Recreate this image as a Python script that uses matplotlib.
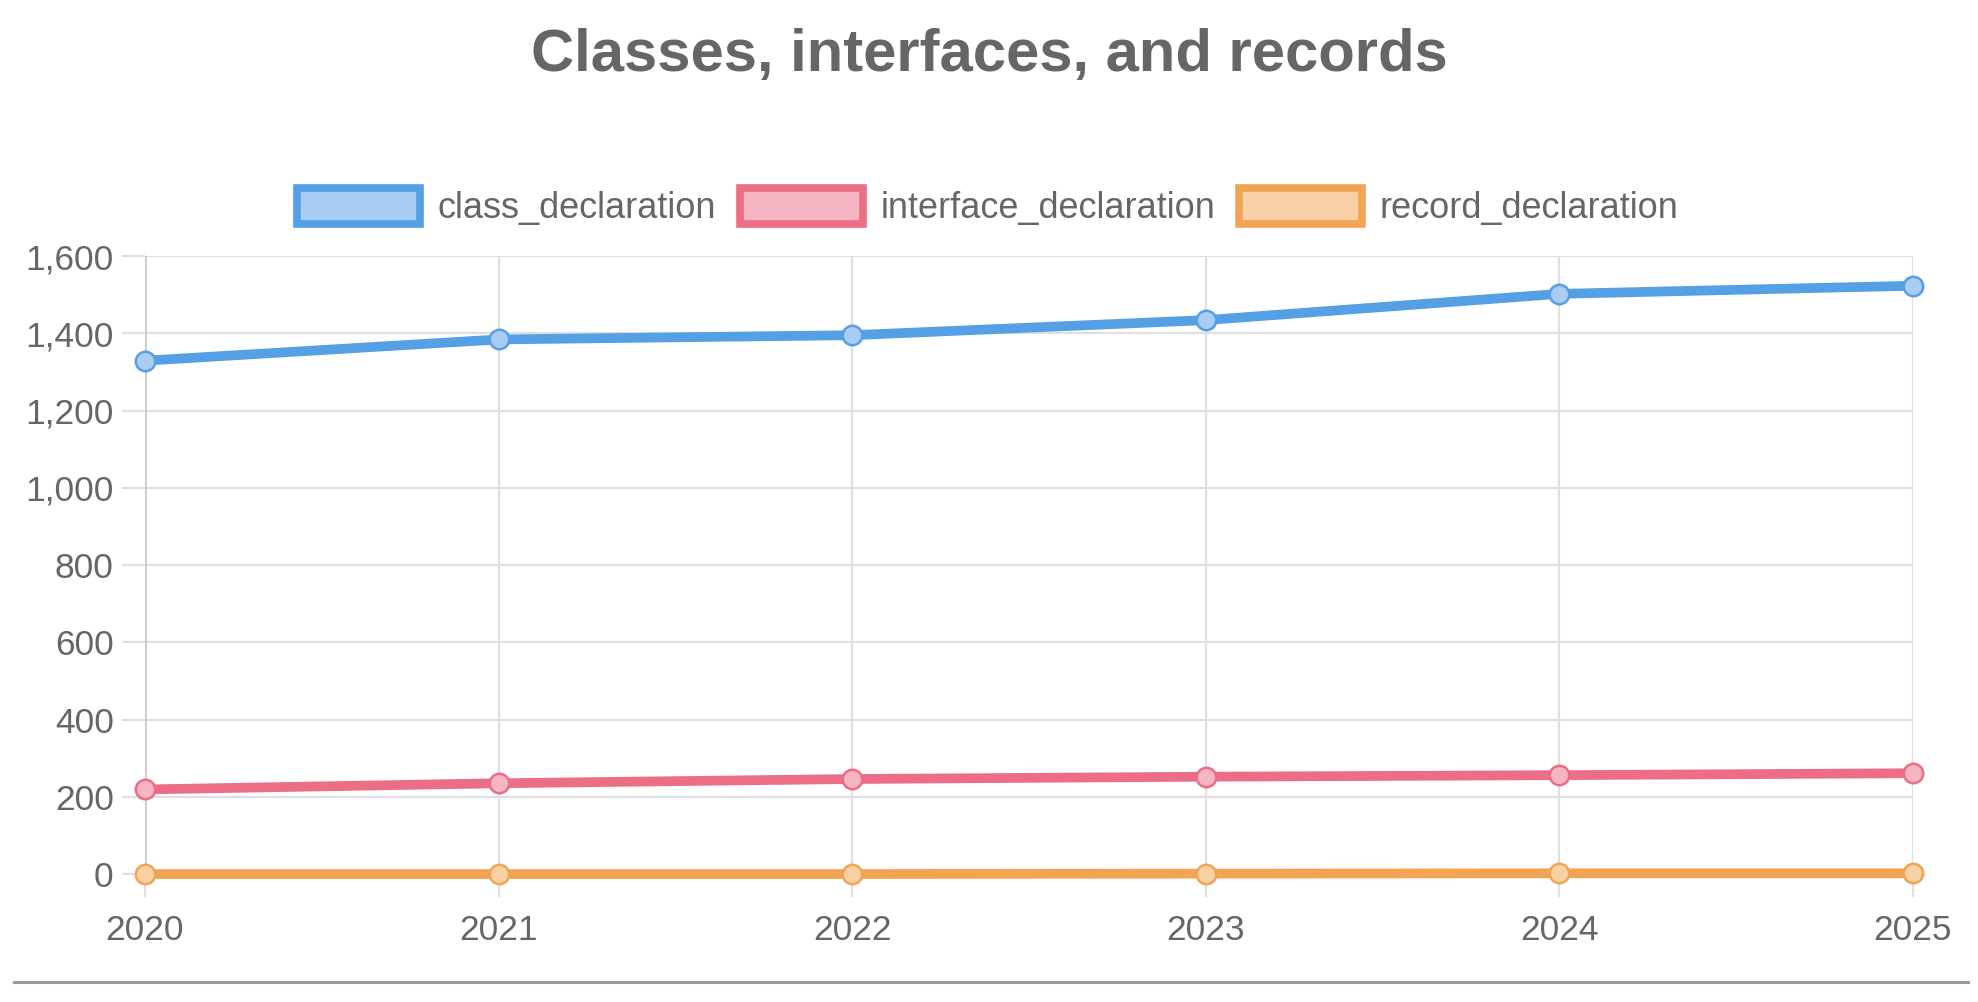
import matplotlib
matplotlib.use("Agg")
import matplotlib.pyplot as plt
from matplotlib.patches import Patch
from matplotlib.lines import Line2D
from matplotlib.ticker import FuncFormatter

# dados
anos = [2020, 2021, 2022, 2023, 2024, 2025]
class_declaration = [1329, 1384, 1395, 1434, 1502, 1523]
interface_declaration = [219, 235, 246, 252, 256, 261]
record_declaration = [0, 0, 0, 1, 2, 2]

series = [
    ("class_declaration", class_declaration, "#559fe4", "#a9cdf2"),
    ("interface_declaration", interface_declaration, "#ec6d86", "#f6b5c2"),
    ("record_declaration", record_declaration, "#f2a455", "#f8d0a6"),
]

plt.rcParams["font.family"] = ["Liberation Sans", "DejaVu Sans"]
cinza = "#666666"
grade = "#e0e0e0"

fig = plt.figure(figsize=(19.78, 10.02), dpi=100)
ax = fig.add_axes([0.0733, 0.1277, 0.9671 - 0.0733, 0.7445 - 0.1277])

for nome, valores, cor, clara in series:
    ax.plot(anos, valores, color=cor, linewidth=7, marker="o", markersize=14,
            markerfacecolor=clara, markeredgecolor=cor, markeredgewidth=1.8,
            clip_on=False, zorder=3, solid_capstyle="round")

ax.set_xlim(2020, 2025)
ax.set_ylim(0, 1600)
ax.set_xticks(anos)
ax.set_yticks(range(0, 1601, 200))
ax.yaxis.set_major_formatter(FuncFormatter(lambda v, p: f"{int(v):,}"))

for s in ax.spines.values():
    s.set_visible(False)
ax.grid(True, color=grade, linewidth=1.6, zorder=0)
ax.set_axisbelow(True)
ax.axvline(2020, color="#c8c8c8", linewidth=1.8, zorder=1)

ax.tick_params(axis="both", colors=grade, width=1.6, length=16.5, labelsize=25.5,
               labelcolor=cinza)
ax.tick_params(axis="y", pad=6)
ax.tick_params(axis="x", pad=12)

fig.text(0.5, 0.945, "Classes, interfaces, and records", ha="center", va="center",
         fontsize=43, fontweight="bold", color=cinza)

handles = [Patch(facecolor=clara, edgecolor=cor, linewidth=5.5, label=nome)
           for nome, valores, cor, clara in series]
leg = fig.legend(handles=handles, loc="center", bbox_to_anchor=(0.4995, 0.793), ncol=3,
                 frameon=False, fontsize=26, handlelength=3.4, handleheight=1.15,
                 handletextpad=0.5, columnspacing=0.65, borderaxespad=0)
for t in leg.get_texts():
    t.set_color(cinza)

# linha cinza no rodapé
fig.add_artist(Line2D([0.007, 0.995], [0.02, 0.02], color="#999999", linewidth=2.2,
                      transform=fig.transFigure))

fig.savefig("out.png", dpi=100)
